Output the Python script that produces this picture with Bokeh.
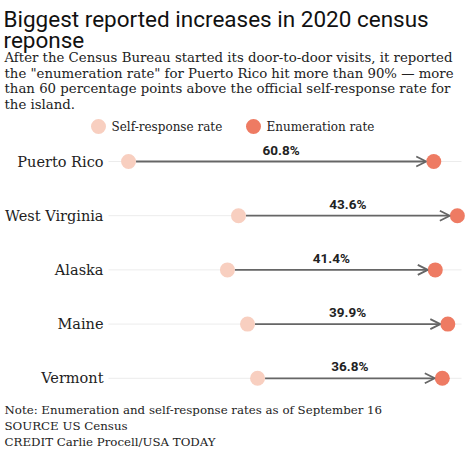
from bokeh.plotting import figure
from bokeh.models import Range1d, ColumnDataSource, Arrow, OpenHead, Label
from bokeh.core.properties import value
from bokeh.embed import file_html
from bokeh.resources import INLINE

# ---- data ----
states = ["Puerto Rico", "West Virginia", "Alaska", "Maine", "Vermont"]
self_rate = [32.6, 54.5, 52.3, 56.3, 58.3]
enum_rate = [93.4, 98.1, 93.7, 96.2, 95.1]
diff_labels = [f"{e - s:.1f}%" for s, e in zip(self_rate, enum_rate)]

SELF_COLOR = "#f8cfc0"
ENUM_COLOR = "#ee7b63"
SERIF = "DejaVu Serif"
SANS = "Roboto"

W, H = 474, 451
PX_PER_PT = 5.02
X_AT_0 = 35.6 / PX_PER_PT


def px2x(px):
    return px / PX_PER_PT + X_AT_0


p = figure(width=W, height=H, output_backend="svg", toolbar_location=None,
           x_range=Range1d(px2x(0), px2x(W)), y_range=Range1d(H, 0),
           min_border=0, min_border_left=0, min_border_right=0,
           min_border_top=0, min_border_bottom=0)
p.axis.visible = False
p.grid.visible = False
p.outline_line_color = None
p.background_fill_color = "white"
p.border_fill_color = "white"

row_top = 161
row_step = 54.2
ys = [row_top + i * row_step for i in range(len(states))]
mid = [(s + e) / 2 for s, e in zip(self_rate, enum_rate)]
r_pt = 7.5 / PX_PER_PT

src = ColumnDataSource(dict(state=states, s=self_rate, e=enum_rate, y=ys,
                            mid=mid, lab=diff_labels,
                            ly=[y - 12 for y in ys],
                            gx0=[px2x(108)] * len(states),
                            gx1=[px2x(461)] * len(states),
                            lx=[px2x(103)] * len(states),
                            a0=[s + r_pt for s in self_rate],
                            a1=[e - r_pt for e in enum_rate]))

# light row guides
p.segment(x0="gx0", x1="gx1", y0="y", y1="y", source=src,
          line_color="#ececec", line_width=1)

# arrows
p.add_layout(Arrow(end=OpenHead(size=10, line_color="#666666", line_width=1.8),
                   x_start="a0", x_end="a1", y_start="y", y_end="y",
                   source=src, line_color="#666666", line_width=1.8))

p.scatter(x="s", y="y", source=src, size=15, fill_color=SELF_COLOR, line_color=None)
p.scatter(x="e", y="y", source=src, size=15, fill_color=ENUM_COLOR, line_color=None)

p.text(x="mid", y="ly", text="lab", source=src, text_align="center",
       text_baseline="alphabetic", text_font=value(SANS), text_font_style="bold",
       text_font_size="13.5px", text_color="#222222")

p.text(x="lx", y="y", text="state", source=src, text_align="right",
       text_baseline="middle", text_font=value(SERIF), text_font_size="14.5px",
       text_color="#222222")

# title & subtitle
def lab(txt, px, py, size, font, style="normal", color="#222222", baseline="alphabetic"):
    p.add_layout(Label(x=px2x(px), y=py, text=txt, text_font=font,
                       text_font_size=size, text_font_style=style,
                       text_color=color, text_baseline=baseline))

lab("Biggest reported increases in 2020 census", 3, 18, "22.5px", SANS, color="#111111")
lab("reponse", 3, 39, "22.5px", SANS, color="#111111")
sub = ["After the Census Bureau started its door-to-door visits, it reported",
       "the \"enumeration rate\" for Puerto Rico hit more than 90% \u2014 more",
       "than 60 percentage points above the official self-response rate for",
       "the island."]
for i, t in enumerate(sub):
    lab(t, 4, 57 + i * 15.6, "13.3px", SERIF)

# legend
p.scatter(x=[px2x(98), px2x(253)], y=[126, 126], size=15,
          fill_color=[SELF_COLOR, ENUM_COLOR], line_color=None)
lab("Self-response rate", 111, 126, "12px", SERIF, baseline="middle")
lab("Enumeration rate", 266, 126, "12px", SERIF, baseline="middle")

# notes
lab("Note: Enumeration and self-response rates as of September 16", 4, 409, "11.8px", SERIF)
lab("SOURCE US Census", 4, 425, "11.8px", SERIF)
lab("CREDIT Carlie Procell/USA TODAY", 4, 441, "11.8px", SERIF)

open("out.html", "w").write(file_html(p, INLINE))
